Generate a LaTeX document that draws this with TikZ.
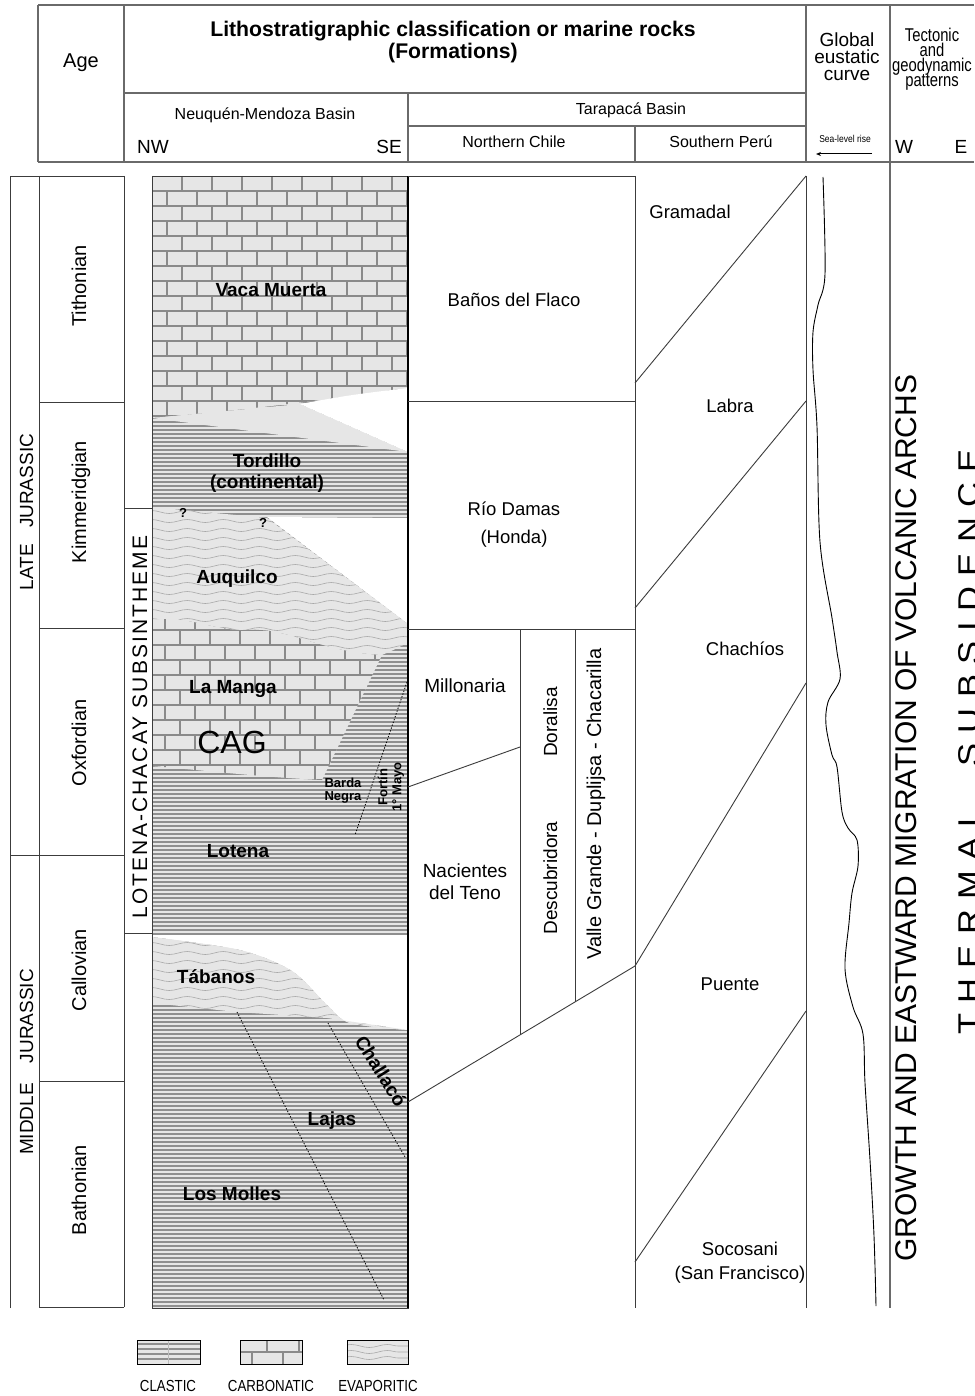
\documentclass[tikz,border=0pt]{standalone}
\usepackage{fontspec}
\setmainfont{Liberation Sans}
\newfontfamily\lsfont[LetterSpace=10]{Liberation Sans}
\newfontfamily\widefont[LetterSpace=30]{Liberation Sans}
\usepackage{graphicx}
\usetikzlibrary{decorations.pathmorphing,arrows.meta}
\definecolor{patbg}{HTML}{E6E6E6}
\definecolor{clline}{HTML}{8F8F8F}
\definecolor{brline}{HTML}{8A8A8A}
\definecolor{evline}{HTML}{A8A8A8}
\definecolor{rulec}{HTML}{3C3C3C}
\definecolor{hrulec}{HTML}{6A6A6A}
\newcommand\fsz[1]{\fontsize{#1}{#1}\selectfont}
\tikzset{
  txt/.style={anchor=base, inner sep=0pt, font=\fsz{18.5}},
  btxt/.style={anchor=base, inner sep=0pt, font=\fsz{19}\bfseries},
  rule/.style={draw=rulec, line width=0.9pt},
  hdrrule/.style={draw=hrulec, line width=1.4pt},
  clastl/.style={draw=clline, line width=1.1pt},
  brickl/.style={draw=brline, line width=2.6pt},
  evapl/.style={draw=evline, line width=0.6pt, decorate, decoration={snake, amplitude=1.5pt, segment length=36pt}},
  dotl/.style={draw=black, line width=0.8pt, dash pattern=on 1.4pt off 1.6pt},
}
\begin{document}
\begin{tikzpicture}[x=1pt,y=-1pt]
\useasboundingbox (0,0) rectangle (974,1396);
\fill[white] (0,0) rectangle (974,1396);

% ================= HEADER =================
\draw[hdrrule] (38,5) -- (974,5);
\draw[hdrrule] (38,162) -- (974,162);
\draw[hdrrule] (38,5) -- (38,162);
\draw[hdrrule] (124,5) -- (124,162);
\draw[hdrrule] (806,5) -- (806,162);
\draw[hdrrule] (890,5) -- (890,1308);
\draw[hdrrule] (124,93) -- (806,93);
\draw[hdrrule] (408,93) -- (408,162);
\draw[hdrrule] (408,126) -- (806,126);
\draw[hdrrule] (635,126) -- (635,162);

\node[txt, font=\fsz{20}] (age) at (81,68) {Age};
\node[btxt, font=\fsz{21.2}\bfseries] (title1) at (453,37) {Lithostratigraphic classification or marine rocks};
\node[btxt, font=\fsz{21.2}\bfseries] (title2) at (453,59) {(Formations)};
\node[txt, font=\fsz{16}] (nmb) at (265,120) {Neuquén-Mendoza Basin};
\node[txt, font=\fsz{19}] (nw) at (153,154) {NW};
\node[txt, font=\fsz{19}] (se) at (389,154) {SE};
\node[txt, font=\fsz{16}] (tarapaca) at (631,115) {Tarapacá Basin};
\node[txt, font=\fsz{16}] (nchile) at (514,148) {Northern Chile};
\node[txt, font=\fsz{16}] (speru) at (721,148) {Southern Perú};
\node[txt, font=\fsz{19}] (glob1) at (847,47) {Global};
\node[txt, font=\fsz{19}] (glob2) at (847,64) {eustatic};
\node[txt, font=\fsz{19}] (glob3) at (847,81) {curve};
\node[txt, font=\fsz{10}] (sealevel) at (845,143) {\scalebox{0.85}[1]{Sea-level rise}};
\coordinate (arrA) at (872,154);
\coordinate (arrB) at (816,154);
\draw[line width=1pt, -{Stealth[length=5pt,width=4pt]}] (arrA) -- (arrB);
\node[txt, font=\fsz{18.5}] (tect1) at (932,42) {\scalebox{0.8}[1]{Tectonic}};
\node[txt, font=\fsz{18.5}] (tect2) at (932,57) {\scalebox{0.8}[1]{and}};
\node[txt, font=\fsz{18.5}] (tect3) at (932,72) {\scalebox{0.8}[1]{geodynamic}};
\node[txt, font=\fsz{18.5}] (tect4) at (932,87) {\scalebox{0.8}[1]{patterns}};
\node[txt, font=\fsz{19}] (w) at (904,154) {W};
\node[txt, font=\fsz{19}] (e) at (961,154) {E};

% ================= AGE COLUMNS =================
\draw[rule] (10,1308) -- (10,176) -- (124,176);
\draw[rule] (10,855) -- (124,855);
\draw[rule] (39,176) -- (39,1307);
\draw[rule] (124,176) -- (124,1307);
\foreach \yy in {402,628,1081,1307} \draw[rule] (39,\yy) -- (124,\yy);
\draw[rule] (124,508) rectangle (152,933);

\node[txt, font=\fsz{19}, rotate=90] (late) at (33,512) {LATE\hspace{16pt}JURASSIC};
\node[txt, font=\fsz{19}, rotate=90] (middle) at (33,1062) {MIDDLE\hspace{20pt}JURASSIC};
\node[txt, font=\fsz{20}, rotate=90] (tith) at (86,286) {Tithonian};
\node[txt, font=\fsz{20}, rotate=90] (kimm) at (86,502) {Kimmeridgian};
\node[txt, font=\fsz{20}, rotate=90] (oxf) at (86,743) {Oxfordian};
\node[txt, font=\fsz{20}, rotate=90] (call) at (86,970) {Callovian};
\node[txt, font=\fsz{20}, rotate=90] (bath) at (86,1190) {Bathonian};
\node[txt, font=\lsfont\fsz{21}, rotate=90] (lotena) at (147,727) {LOTENA-CHACAY SUBSINTHEME};

% ================= NEUQUEN COLUMN =================
% clastic base
\fill[patbg] (152,176) rectangle (408,1308);
\begin{scope}
\clip (152,176) rectangle (408,1308);
\foreach \i in {0,...,283} \draw[clastl] (152,{178+4*\i}) -- (408,{178+4*\i});
\end{scope}

% Vaca Muerta (carbonatic)
\begin{scope}
\clip (152,176) -- (408,176) -- (408,388) .. controls (360,394) and (300,405) .. (152,418) -- cycle;
\fill[patbg] (152,176) rectangle (408,420);
\foreach \r in {0,...,16}{
  \pgfmathsetmacro\yt{176+15*\r}
  \pgfmathsetmacro\off{mod(\r,2)*15}
  \draw[brickl] (152,{\yt+15}) -- (408,{\yt+15});
  \foreach \k in {0,...,9} \draw[brickl] ({152+\off+30*\k},\yt) -- ++(0,15);
}
\end{scope}
% transition band and white wedge
\fill[patbg] (152,418) -- (300,404) -- (408,452) -- cycle;
\fill[white] (300,404) .. controls (350,395) .. (408,388) -- (408,452) -- cycle;

% white wedge below Tordillo
\fill[white] (267,517) -- (408,518) -- (408,624) -- cycle;

% Auquilco (evaporitic)
\begin{scope}
\clip (152,507) -- (267,518) -- (408,624) -- (408,642) .. controls (398,648) .. (382,655)
  .. controls (320,652) and (290,628) .. (250,630) .. controls (215,632) and (190,615) .. (152,620) -- cycle;
\fill[patbg] (140,500) rectangle (420,660);
\foreach \i in {0,...,18} \draw[evapl] (140,{503+9*\i}) -- (420,{503+9*\i});
\end{scope}

% La Manga / CAG (carbonatic)
\begin{scope}
\clip (152,620) .. controls (190,615) and (215,632) .. (250,630) .. controls (290,628) and (320,652) .. (382,655)
  -- (322,780) .. controls (260,777) and (200,770) .. (152,766) -- cycle;
\fill[patbg] (152,600) rectangle (408,790);
\foreach \r in {0,...,11}{
  \pgfmathsetmacro\yt{600+15*\r}
  \pgfmathsetmacro\off{mod(\r,2)*15}
  \draw[brickl] (152,{\yt+15}) -- (408,{\yt+15});
  \foreach \k in {0,...,9} \draw[brickl] ({150+\off+30*\k},\yt) -- ++(0,15);
}
\end{scope}

% white area above Tabanos
\fill[white] (152,935) -- (408,935) -- (408,1030)
  -- plot[smooth] coordinates {(408,1030) (350,1023) (327,1005) (292,971) (240,950) (152,937)} -- cycle;
% Tabanos (evaporitic)
\begin{scope}
\clip plot[smooth] coordinates {(152,937) (240,950) (292,971) (327,1005) (350,1023) (408,1030)}
  -- (327,1018) -- (237,1012) -- (152,1003) -- cycle;
\fill[patbg] (140,930) rectangle (420,1040);
\foreach \i in {0,...,12} \draw[evapl] (140,{935+9*\i}) -- (420,{935+9*\i});
\end{scope}

% dotted boundaries
\coordinate (fortA) at (407,682);
\coordinate (fortB) at (355,835);
\coordinate (lajA) at (237,1012);
\coordinate (lajB) at (384,1300);
\coordinate (chaA) at (328,1023);
\coordinate (chaB) at (405,1157);
\draw[dotl] (fortA) -- (fortB);
\draw[dotl] (lajA) -- (lajB);
\draw[dotl] (chaA) -- (chaB);

% column borders
\draw[rule] (152,176) rectangle (408,1308);
\draw[black, line width=2pt] (408,176) -- (408,1308);

% Neuquen labels
\node[btxt] (vaca) at (271,297) {Vaca Muerta};
\node[btxt] (tord1) at (267,467) {Tordillo};
\node[btxt] (tord2) at (267,488) {(continental)};
\node[btxt, font=\fsz{13}\bfseries] (q1) at (183,517) {?};
\node[btxt, font=\fsz{13}\bfseries] (q2) at (263,527) {?};
\node[btxt] (auq) at (237,583) {Auquilco};
\node[btxt] (lamanga) at (233,693) {La Manga};
\node[txt, font=\fsz{32}] (cag) at (232,753) {CAG};
\node[btxt, font=\fsz{13}\bfseries] (barda) at (343,787) {Barda};
\node[btxt, font=\fsz{13}\bfseries] (negra) at (343,800) {Negra};
\node[btxt, font=\fontsize{13}{14}\selectfont\bfseries, rotate=90, anchor=center, align=center] (fortin) at (391,787) {Fortín\\1° Mayo};
\node[btxt] (lotenaf) at (238,857) {Lotena};
\node[btxt] (tabanos) at (216,983) {Tábanos};
\node[btxt, rotate=-58, anchor=center] (challaco) at (381,1071) {Challacó};
\node[btxt] (lajas) at (332,1125) {Lajas};
\node[btxt] (molles) at (232,1200) {Los Molles};

% ================= NORTHERN CHILE =================
\draw[rule] (408,176) -- (635,176);
\draw[rule] (408,401) -- (635,401);
\draw[rule] (408,629) -- (635,629);
\draw[rule] (635,176) -- (635,1308);
\draw[rule] (520,629) -- (520,1035);
\draw[rule] (575,629) -- (575,1002);
\coordinate (milA) at (408,787);
\coordinate (milB) at (520,747);
\draw[rule] (milA) -- (milB);
\coordinate (nacA) at (408,1102);
\coordinate (nacB) at (635,966);
\draw[rule] (nacA) -- (nacB);

\node[txt] (banos) at (514,307) {Baños del Flaco};
\node[txt] (rio1) at (514,515) {Río Damas};
\node[txt] (rio2) at (514,543) {(Honda)};
\node[txt, font=\fsz{19}] (millo) at (465,692) {Millonaria};
\node[txt, font=\fsz{19}] (nac1) at (465,877) {Nacientes};
\node[txt, font=\fsz{19}] (nac2) at (465,899) {del Teno};
\node[txt, font=\fsz{19}, rotate=90] (doral) at (557,722) {Doralisa};
\node[txt, font=\fsz{19}, rotate=90] (descu) at (557,878) {Descubridora};
\node[txt, font=\fsz{20}, rotate=90] (valle) at (601,804) {Valle Grande - Duplijsa - Chacarilla};

% ================= SOUTHERN PERU =================
\draw[rule] (806,176) -- (806,1308);
\coordinate (p1a) at (635,383); \coordinate (p1b) at (806,176);
\coordinate (p2a) at (635,608); \coordinate (p2b) at (806,401);
\coordinate (p3b) at (806,683);
\coordinate (p4a) at (635,1262); \coordinate (p4b) at (806,1011);
\draw[rule] (p1a) -- (p1b);
\draw[rule] (p2a) -- (p2b);
\draw[rule] (nacB) -- (p3b);
\draw[rule] (p4a) -- (p4b);

\node[txt] (gram) at (690,219) {Gramadal};
\node[txt] (labra) at (730,412) {Labra};
\node[txt] (chach) at (745,655) {Chachíos};
\node[txt] (puente) at (730,990) {Puente};
\node[txt] (soco1) at (740,1255) {Socosani};
\node[txt] (soco2) at (740,1279) {(San Francisco)};

% ================= EUSTATIC CURVE =================
\draw[black, line width=0.9pt] plot[smooth, tension=0.55] coordinates {
 (823,177) (825,274) (818,305) (813,332) (813,370) (817,427) (820,542) (832,618)
 (837,652) (840,679) (828,702) (826,725) (832,755) (837,767) (842,812) (848,828)
 (857,840) (858,866) (852,893) (849,923) (845,969) (853,1007) (863,1034) (865,1083)
 (870,1160) (874,1236) (876,1306)};

% ================= TECTONIC =================
\node[txt, font=\fsz{30}, rotate=90] (growth) at (916,818) {GROWTH AND EASTWARD MIGRATION OF VOLCANIC ARCHS};
\node[txt, font=\widefont\fsz{30}, rotate=90] (thermal) at (979,742) {\scalebox{1.15}[1]{THERMAL\hspace{36pt}SUBSIDENCE}};

% ================= LEGEND =================
\begin{scope}
\clip (137,1340) rectangle (200,1364);
\fill[patbg] (137,1340) rectangle (200,1364);
\foreach \yy in {1344,1349,1354,1359} \draw[clastl, line width=1.6pt] (137,\yy) -- (200,\yy);
\draw[clline!60, line width=0.6pt] (168,1340) -- (168,1364);
\end{scope}
\draw[black, line width=1pt] (137,1340) rectangle (200,1364);

\begin{scope}
\clip (240,1340) rectangle (302,1364);
\fill[patbg] (240,1340) rectangle (302,1364);
\draw[brickl] (240,1352) -- (302,1352);
\draw[brickl] (267,1340) -- (267,1352);
\draw[brickl] (299,1340) -- (299,1352);
\draw[brickl] (252,1352) -- (252,1364);
\draw[brickl] (283,1352) -- (283,1364);
\end{scope}
\draw[black, line width=1pt] (240,1340) rectangle (302,1364);

\begin{scope}
\clip (347,1340) rectangle (408,1364);
\fill[patbg] (347,1340) rectangle (408,1364);
\foreach \yy in {1346,1352,1358} \draw[evapl] (340,\yy) -- (415,\yy);
\end{scope}
\draw[black, line width=1pt] (347,1340) rectangle (408,1364);

\node[txt, font=\fsz{16}] (lclastic) at (168,1391) {\scalebox{0.83}[1]{CLASTIC}};
\node[txt, font=\fsz{16}] (lcarb) at (271,1391) {\scalebox{0.83}[1]{CARBONATIC}};
\node[txt, font=\fsz{16}] (levap) at (378,1391) {\scalebox{0.83}[1]{EVAPORITIC}};
\end{tikzpicture}
\end{document}
